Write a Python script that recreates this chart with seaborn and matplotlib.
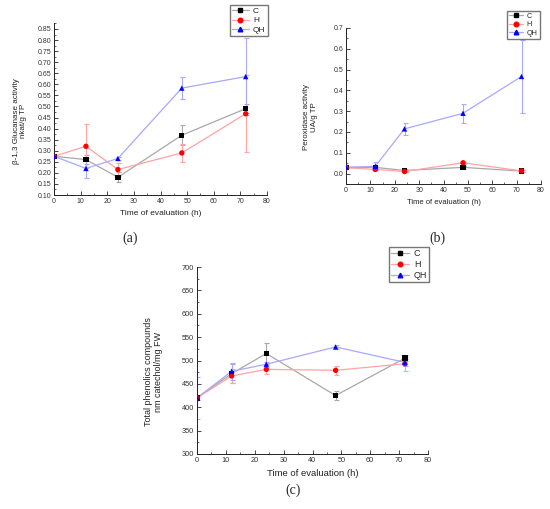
import numpy as np
import pandas as pd
import matplotlib
matplotlib.use("Agg")
import matplotlib.pyplot as plt
from matplotlib.lines import Line2D
from matplotlib.ticker import MultipleLocator
import seaborn as sns

sns.set_theme(style="ticks")
plt.rcParams['font.family'] = ['Liberation Sans', 'DejaVu Sans']

times = [0, 12, 24, 48, 72]
treatments = ["C", "H", "QH"]

# (a) beta-1,3 glucanase
glu_C = [0.275, 0.26, 0.18, 0.37, 0.49]
glu_H = [0.275, 0.32, 0.215, 0.29, 0.467]
glu_QH = [0.275, 0.22, 0.265, 0.583, 0.635]
glu_C_err = [0.005, 0.02, 0.022, 0.045, 0.02]
glu_H_err = [0.005, 0.10, 0.03, 0.042, 0.175]
glu_QH_err = [0.005, 0.045, 0.005, 0.05, 0.175]

# (b) peroxidase
per_C = [0.03, 0.03, 0.015, 0.03, 0.012]
per_H = [0.028, 0.02, 0.01, 0.052, 0.013]
per_QH = [0.03, 0.035, 0.215, 0.29, 0.467]
per_C_err = [0.003, 0.005, 0.005, 0.008, 0.003]
per_H_err = [0.003, 0.005, 0.003, 0.005, 0.003]
per_QH_err = [0.005, 0.02, 0.03, 0.045, 0.175]

# (c) total phenolics
phe_C = [420, 472, 515, 425, 505]
phe_H = [420, 467, 481, 479, 493]
phe_QH = [420, 477, 492, 529, 496]
phe_C_err = [5, 20, 22, 10, 7]
phe_H_err = [5, 15, 10, 10, 15]
phe_QH_err = [45, 18, 5, 5, 8]

line_col = {"C": "#a8a8a8", "H": "#ffa3a3", "QH": "#a8a8ff"}
mark_col = {"C": "#000000", "H": "#ff0000", "QH": "#0000ff"}
markers = {"C": "s", "H": "o", "QH": "^"}

fig = plt.figure(figsize=(5.5, 5.09), dpi=100)
W, H = 550, 509

def rect(l, r, t, b):
    return [l / W, 1 - b / H, (r - l) / W, (b - t) / H]

ax_a = fig.add_axes(rect(54, 267, 23, 195))
ax_b = fig.add_axes(rect(346, 541, 28, 184))
ax_c = fig.add_axes(rect(197, 428, 267, 454))

def panel(ax, vals, errs, ylim, ymaj, ymin, yfmt, ylabel, ylab_xy, leg_box, leg_fs,
          tick_fs, xlab_fs, ylab_fs):
    rows = []
    for t in treatments:
        for x, v in zip(times, vals[t]):
            rows.append({"time": x, "value": v, "treat": t})
    df = pd.DataFrame(rows)
    for t in treatments:
        ax.errorbar(times, vals[t], yerr=errs[t], fmt="none", ecolor=line_col[t],
                    elinewidth=0.8, capsize=1.8, capthick=0.8, zorder=1)
    sns.lineplot(data=df, x="time", y="value", hue="treat", palette=line_col,
                 linewidth=0.9, legend=False, ax=ax, zorder=2, estimator=None)
    sns.scatterplot(data=df, x="time", y="value", hue="treat", style="treat",
                    palette=mark_col, markers=markers, s=15, linewidth=0,
                    legend=False, ax=ax, zorder=3)
    ax.set_xlim(0, 80)
    ax.set_ylim(*ylim)
    ax.xaxis.set_major_locator(MultipleLocator(10))
    ax.xaxis.set_minor_locator(MultipleLocator(5))
    ax.yaxis.set_major_locator(MultipleLocator(ymaj))
    ax.yaxis.set_minor_locator(MultipleLocator(ymin))
    ax.yaxis.set_major_formatter(plt.FuncFormatter(lambda v, p: yfmt.format(v)))
    ax.tick_params(which="major", direction="in", length=3, width=0.6,
                   labelsize=tick_fs, labelcolor="#333333", pad=2)
    ax.tick_params(which="minor", direction="in", length=1.5, width=0.5)
    for s in ["top", "right"]:
        ax.spines[s].set_visible(False)
    for s in ["left", "bottom"]:
        ax.spines[s].set_linewidth(0.7)
        ax.spines[s].set_color("#222222")
    ax.set_xlabel("Time of evaluation (h)", fontsize=xlab_fs, color="#222222", labelpad=4)
    ax.set_ylabel(ylabel, fontsize=ylab_fs, color="#222222", linespacing=1.1)
    ax.yaxis.set_label_coords(*ylab_xy, transform=fig.transFigure)
    handles = [Line2D([], [], color=line_col[t], lw=0.9, marker=markers[t],
                      markersize=3.3, mfc=mark_col[t], mec=mark_col[t]) for t in treatments]
    l, r, t_, b = leg_box
    fig.legend(handles, treatments, loc="upper left",
               bbox_to_anchor=(l / W, 1 - t_ / H), fontsize=leg_fs, frameon=True,
               fancybox=False, edgecolor="#555555", handlelength=2.0,
               borderpad=0.25, labelspacing=0.2, handletextpad=0.5,
               borderaxespad=0)

panel(ax_a,
      {"C": glu_C, "H": glu_H, "QH": glu_QH},
      {"C": glu_C_err, "H": glu_H_err, "QH": glu_QH_err},
      (0.10, 0.877), 0.05, 0.025, "{:.2f}",
      "β-1,3 Glucanase activity\nnkat/g TP", (27 / W, 1 - 121 / H),
      (230, 266, 5, 37), 6, 5.0, 6.0, 5.8)
panel(ax_b,
      {"C": per_C, "H": per_H, "QH": per_QH},
      {"C": per_C_err, "H": per_H_err, "QH": per_QH_err},
      (-0.05, 0.70), 0.1, 0.05, "{:.1f}",
      "Peroxidase activity\nUA/g TP", (318 / W, 1 - 117 / H),
      (507, 538, 11, 39), 5.2, 5.0, 5.5, 5.7)
panel(ax_c,
      {"C": phe_C, "H": phe_H, "QH": phe_QH},
      {"C": phe_C_err, "H": phe_H_err, "QH": phe_QH_err},
      (300, 700), 50, 25, "{:.0f}",
      "Total phenolics compounds\nnm catechol/mg FW", (163 / W, 1 - 372 / H),
      (389, 430, 247, 280), 6.5, 5.3, 6.8, 6.5)

for lab, (x, y) in {"(a)": (130, 238), "(b)": (437, 238), "(c)": (293, 490)}.items():
    fig.text(x / W, 1 - y / H, lab, ha="center", va="center", fontsize=10,
             family=["Liberation Serif", "DejaVu Serif"])

fig.savefig("out.png", dpi=100)
